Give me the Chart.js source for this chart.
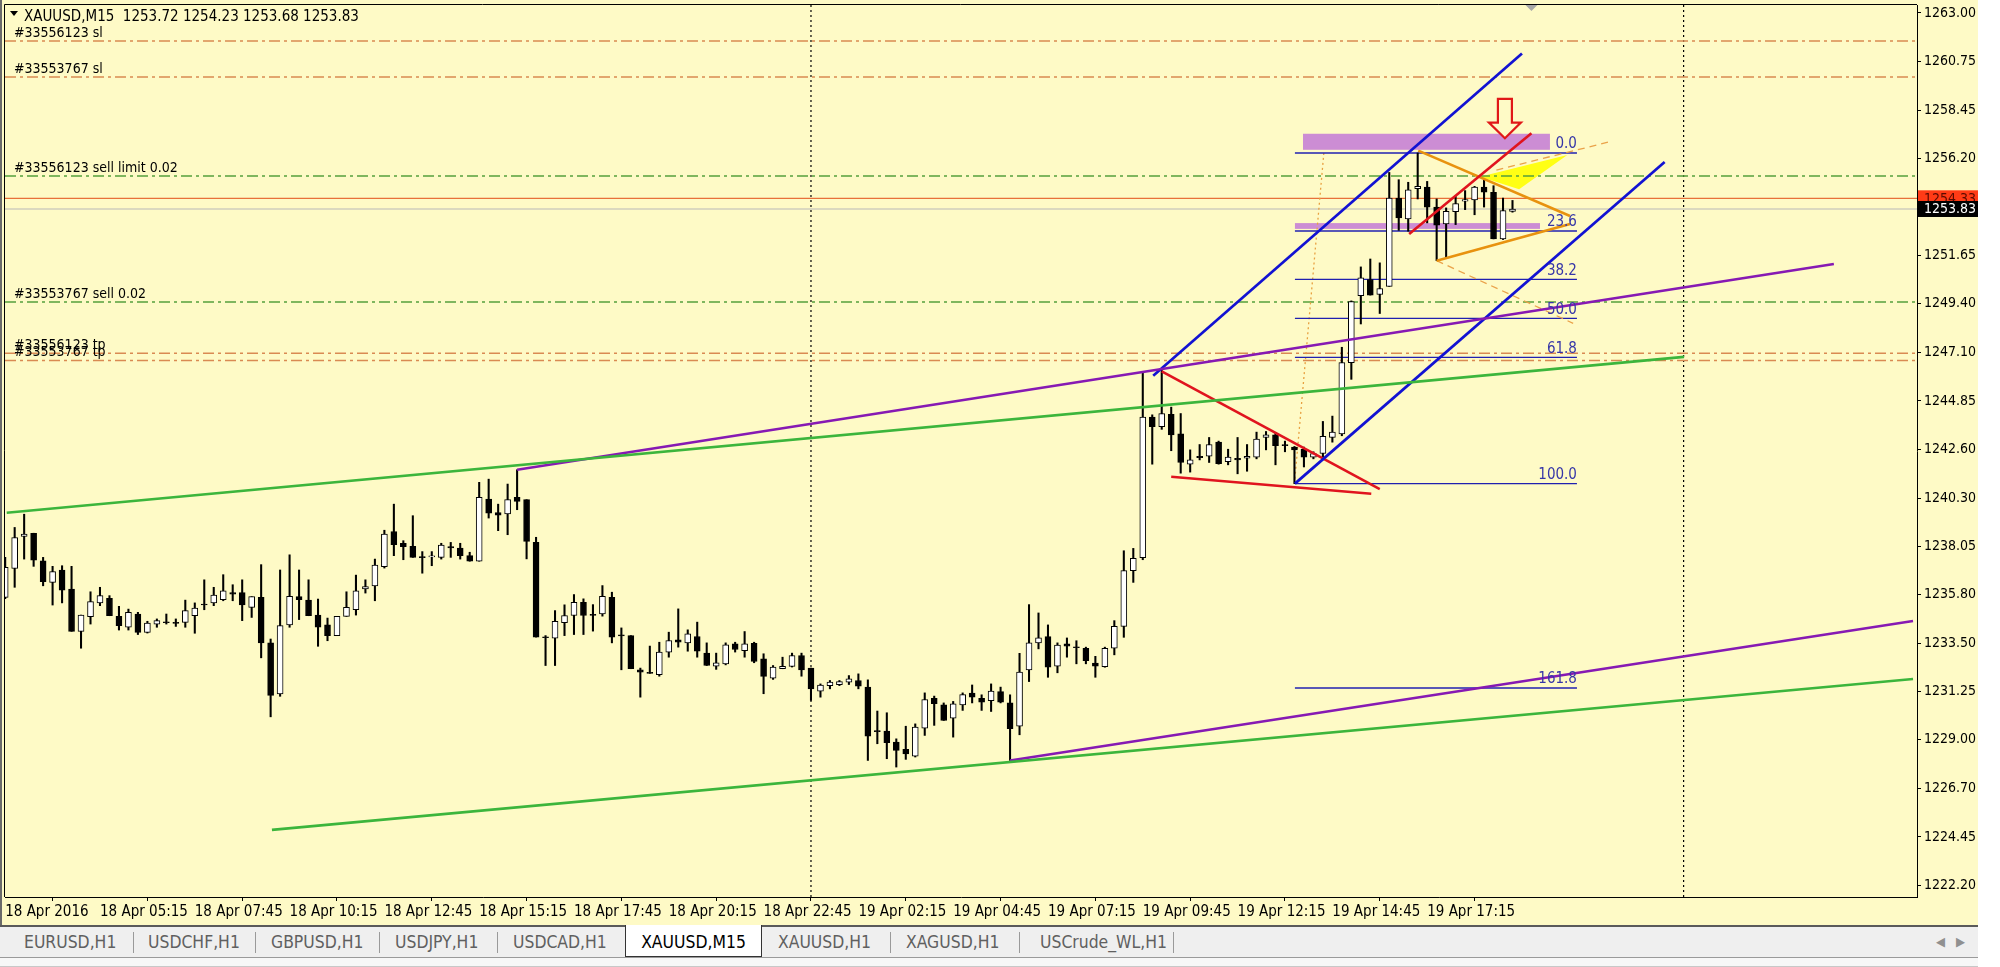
<!DOCTYPE html>
<html><head><meta charset="utf-8">
<script src="https://cdn.jsdelivr.net/npm/chart.js@4.4.1/dist/chart.umd.min.js"></script>
<style>
html,body{margin:0;padding:0;background:#fff;width:2000px;height:967px;overflow:hidden;}
#win{position:absolute;left:0;top:0;width:1978px;height:967px;background:#f3f3f3;}
#c{position:absolute;left:0;top:0;}
#tabbar{position:absolute;left:0;top:925px;width:1978px;height:33px;background:#efefef;border-top:2px solid #5a5a5a;border-bottom:1px solid #9a9a9a;box-sizing:border-box;
 font-family:"DejaVu Sans Condensed","DejaVu Sans",sans-serif;font-size:17.4px;color:#606060;}
.tab{position:absolute;top:5px;white-space:nowrap;}
.sep{position:absolute;top:5px;width:1px;height:21px;background:#9a9a9a;}
.act{position:absolute;top:-2px;height:32px;background:#fff;border:1px solid #333;border-top:none;box-sizing:border-box;color:#000;text-align:center;padding-top:7px;}
#foot{position:absolute;left:0;top:958px;width:1978px;height:9px;background:#f7f7f7;border-bottom:1px solid #c8c8c8;box-sizing:border-box;}
.arr{position:absolute;top:7px;color:#909090;font-size:13px;}
</style></head>
<body><div id="win">
<canvas id="c" width="1978" height="925"></canvas>
<div id="tabbar">
 <span class="tab" style="left:24px">EURUSD,H1</span><div class="sep" style="left:133px"></div>
 <span class="tab" style="left:148px">USDCHF,H1</span><div class="sep" style="left:255px"></div>
 <span class="tab" style="left:271px">GBPUSD,H1</span><div class="sep" style="left:379px"></div>
 <span class="tab" style="left:395px">USDJPY,H1</span><div class="sep" style="left:497px"></div>
 <span class="tab" style="left:513px">USDCAD,H1</span>
 <div class="act" style="left:625px;width:137px">XAUUSD,M15</div>
 <span class="tab" style="left:778px">XAUUSD,H1</span><div class="sep" style="left:890px"></div>
 <span class="tab" style="left:906px">XAGUSD,H1</span><div class="sep" style="left:1019px"></div>
 <span class="tab" style="left:1040px">USCrude_WL,H1</span><div class="sep" style="left:1173px"></div>
 <span class="arr" style="left:1936px">&#9664;</span><span class="arr" style="left:1956px">&#9654;</span>
</div>
<div id="foot"></div>
</div>
<script>
// ---------------- DATA ----------------
const headerText = "XAUUSD,M15  1253.72 1254.23 1253.68 1253.83";
const opens = [1235.66,1237.01,1238.51,1238.66,1237.37,1236.36,1236.94,1236.05,1234.07,1234.76,
 1235.40,1235.61,1234.77,1234.26,1234.88,1234.02,1234.41,1234.52,1234.49,1234.49,
 1234.80,1235.35,1235.40,1235.55,1235.88,1235.88,1235.19,1235.66,1233.53,1231.14,
 1234.37,1235.69,1235.53,1234.83,1234.37,1233.87,1234.77,1235.08,1236.05,1236.20,
 1237.09,1238.74,1238.19,1238.05,1237.55,1237.55,1237.53,1238.03,1237.97,1237.61,
 1237.35,1240.26,1239.63,1239.56,1240.34,1240.23,1238.23,1233.81,1233.75,1234.47,
 1234.81,1235.43,1234.86,1234.89,1235.66,1233.89,1233.87,1232.27,1232.15,1232.04,
 1233.10,1233.67,1233.53,1233.83,1233.05,1232.44,1232.55,1233.48,1233.17,1233.51,
 1232.78,1231.88,1232.32,1232.43,1232.94,1232.35,1231.27,1231.53,1231.58,1231.69,
 1231.77,1231.46,1229.41,1229.40,1228.89,1228.55,1228.23,1229.54,1230.94,1230.63,
 1230.01,1230.63,1231.18,1230.94,1230.83,1231.25,1230.72,1229.63,1232.27,1233.53,
 1233.82,1232.44,1233.48,1233.34,1233.28,1232.59,1232.42,1233.28,1234.30,1236.91,
 1237.52,1244.09,1243.64,1244.22,1243.31,1241.89,1242.26,1242.26,1242.93,1242.01,
 1242.16,1242.17,1242.22,1243.14,1243.26,1242.81,1242.69,1242.59,1242.22,1242.39,
 1243.14,1243.31,1246.64,1249.78,1250.53,1249.83,1250.21,1254.34,1253.36,1254.78,
 1254.86,1253.92,1253.13,1253.70,1254.19,1254.26,1254.86,1254.61,1252.43,1253.72];
const highs = [1237.53,1238.93,1239.55,1238.66,1237.53,1237.11,1237.14,1237.11,1234.83,1235.92,
 1236.13,1235.74,1235.24,1235.11,1234.96,1234.54,1234.65,1234.88,1234.65,1235.53,
 1235.40,1236.48,1236.13,1236.72,1236.25,1236.48,1235.69,1237.19,1233.71,1236.94,
 1237.65,1236.94,1236.48,1235.58,1234.69,1234.77,1235.92,1236.70,1236.48,1237.45,
 1238.80,1240.02,1238.31,1239.48,1237.80,1237.80,1238.19,1238.23,1238.19,1237.77,
 1241.04,1241.19,1240.02,1240.96,1241.63,1240.23,1238.47,1233.87,1235.04,1235.31,
 1235.79,1235.59,1235.32,1236.21,1235.90,1234.23,1233.87,1232.35,1233.38,1233.56,
 1234.03,1235.12,1234.14,1234.50,1233.53,1233.05,1233.53,1233.56,1234.06,1233.56,
 1233.02,1232.47,1232.86,1233.05,1233.05,1232.35,1231.61,1231.77,1231.77,1232.00,
 1232.08,1231.80,1230.34,1230.26,1229.04,1229.63,1229.74,1231.19,1231.04,1230.72,
 1230.79,1231.19,1231.56,1231.10,1231.61,1231.46,1231.10,1233.04,1235.32,1234.93,
 1234.37,1233.53,1233.76,1233.63,1233.33,1232.90,1233.33,1234.57,1237.84,1237.95,
 1246.14,1244.20,1246.30,1244.56,1244.26,1242.56,1242.81,1243.14,1242.97,1242.59,
 1243.14,1242.81,1243.39,1243.42,1243.36,1242.97,1242.72,1242.69,1242.47,1243.89,
 1244.14,1247.36,1249.53,1251.12,1251.49,1251.31,1255.54,1255.20,1255.08,1256.45,
 1255.12,1254.30,1253.88,1254.42,1254.69,1254.89,1255.20,1254.92,1254.34,1254.23];
const lows = [1235.60,1236.13,1237.45,1237.11,1236.20,1235.30,1235.40,1234.07,1233.28,1234.41,
 1235.27,1234.80,1234.13,1234.13,1233.92,1233.99,1234.26,1234.41,1234.30,1234.26,
 1233.98,1235.08,1235.27,1235.50,1235.50,1234.57,1234.72,1232.83,1230.07,1231.03,
 1234.26,1234.62,1234.80,1233.37,1233.63,1233.87,1234.77,1234.83,1235.86,1235.50,
 1237.03,1237.61,1237.42,1237.53,1236.79,1237.14,1237.45,1237.53,1237.45,1237.35,
 1237.35,1239.37,1238.78,1238.59,1239.76,1237.46,1233.80,1232.47,1232.47,1233.87,
 1233.92,1233.92,1234.08,1234.78,1233.53,1232.27,1232.32,1230.99,1232.10,1231.97,
 1232.86,1233.33,1233.14,1232.86,1232.47,1232.29,1232.50,1233.10,1232.86,1232.60,
 1231.15,1231.82,1232.32,1232.40,1231.97,1230.84,1230.99,1231.38,1231.53,1231.58,
 1231.38,1228.03,1228.81,1228.11,1227.72,1228.08,1228.19,1229.20,1229.67,1229.90,
 1229.12,1230.37,1230.72,1230.37,1230.32,1230.72,1228.03,1229.23,1231.72,1233.25,
 1231.92,1232.13,1232.86,1232.55,1232.55,1231.92,1232.39,1232.97,1233.79,1236.36,
 1237.42,1241.89,1243.52,1242.52,1241.47,1241.52,1242.09,1241.97,1241.89,1241.86,
 1241.44,1241.56,1242.14,1242.56,1241.86,1242.47,1240.98,1241.76,1242.14,1242.22,
 1242.92,1243.22,1245.86,1248.45,1249.80,1248.94,1250.21,1252.83,1252.79,1254.30,
 1253.18,1251.41,1251.54,1253.10,1253.80,1253.56,1253.92,1252.43,1252.40,1253.68];
const closes = [1237.06,1238.46,1238.62,1237.40,1236.39,1236.86,1236.00,1234.07,1234.83,1235.46,
 1235.74,1234.80,1234.34,1234.96,1234.02,1234.46,1234.57,1234.47,1234.44,1235.04,
 1235.16,1235.30,1235.77,1235.97,1235.81,1235.30,1235.69,1233.53,1231.07,1234.34,
 1235.71,1235.55,1234.80,1234.26,1233.87,1234.77,1235.19,1235.97,1236.16,1237.17,
 1238.62,1238.12,1238.03,1237.53,1237.52,1237.58,1238.11,1237.97,1237.61,1237.35,
 1240.34,1239.60,1239.51,1240.23,1240.15,1238.28,1233.80,1233.77,1234.54,1234.81,
 1235.43,1234.81,1234.81,1235.71,1233.80,1233.86,1232.32,1232.16,1232.10,1233.10,
 1233.64,1233.56,1233.95,1233.14,1232.47,1232.60,1233.44,1233.22,1233.48,1232.66,
 1231.96,1232.40,1232.43,1232.94,1232.27,1231.38,1231.56,1231.69,1231.72,1231.85,
 1231.50,1229.17,1229.38,1228.86,1228.50,1228.34,1229.59,1230.88,1230.68,1229.90,
 1230.68,1231.11,1230.99,1230.76,1231.27,1230.76,1229.51,1232.16,1233.53,1233.76,
 1232.39,1233.43,1233.37,1233.30,1232.70,1232.44,1233.28,1234.30,1236.91,1237.48,
 1244.09,1243.64,1244.26,1243.26,1241.97,1242.09,1242.19,1242.81,1241.92,1242.22,
 1242.09,1242.26,1243.06,1243.26,1242.76,1242.76,1242.56,1242.22,1242.39,1243.19,
 1243.39,1246.64,1249.50,1250.61,1249.80,1250.11,1254.34,1253.41,1254.73,1254.89,
 1253.91,1253.07,1253.72,1254.08,1254.27,1254.86,1254.62,1252.43,1253.75,1253.83];

const timeTickBars = [0,10,20,30,40,50,60,70,80,90,100,110,120,130,140,150];
const timeTickLabels = ["18 Apr 2016","18 Apr 05:15","18 Apr 07:45","18 Apr 10:15","18 Apr 12:45","18 Apr 15:15",
 "18 Apr 17:45","18 Apr 20:15","18 Apr 22:45","19 Apr 02:15","19 Apr 04:45","19 Apr 07:15","19 Apr 09:45",
 "19 Apr 12:15","19 Apr 14:45","19 Apr 17:15"];
const priceTicks = [1263.00,1260.75,1258.45,1256.20,1251.65,1249.40,1247.10,1244.85,1242.60,1240.30,
 1238.05,1235.80,1233.50,1231.25,1229.00,1226.70,1224.45,1222.20];
const priceMin = 1221.64, priceMax = 1263.374;
const barMin = -0.02, barMax = 201.67;
const bidPrice = 1253.83, askPrice = 1254.33;

const orderLevels = [1261.69, 1260.01, 1255.37, 1249.48, 1247.08, 1246.74];
const orderLabels = ["#33556123 sl","#33553767 sl","#33556123 sell limit 0.02","#33553767 sell 0.02","#33556123 tp","#33553767 tp"];
const orderKinds  = ["stop","stop","entry","entry","stop","stop"];

const separatorBars = [85, 177.05];
const shiftMarkerBar = 161;

const greenUpper   = [[0.16,1239.62],[177.1,1246.91]];
const greenLower   = [[28.14,1224.78],[201.25,1231.84]];
const purpleUpper  = [[54,1241.63],[192.9,1251.26]];
const purpleLower  = [[106,1228.03],[201.25,1234.55]];
const blueUpper    = [[121.1,1246.03],[160.0,1261.10]];
const blueLower    = [[136.05,1240.98],[175.05,1256.03]];
const redFalling   = [[122.0,1246.23],[145.0,1240.72]];
const redBase      = [[123.0,1241.30],[144.1,1240.51]];
const redRising    = [[148.1,1252.66],[161.0,1257.37]];
const orangeUpper  = [[149.06,1256.56],[165.07,1253.50]];
const orangeLower  = [[151.0,1251.41],[165.07,1253.13]];
const orangeDashDown = [[151.0,1251.41],[165.4,1248.48]];
const orangeDashUp   = [[157.3,1255.65],[169.3,1256.98]];
const fibConnector   = [[136.0,1240.98],[139.1,1256.45]];

const fibLevels = [0, 23.6, 38.2, 50, 61.8, 100, 161.8];
const fibLabels = ["0.0","23.6","38.2","50.0","61.8","100.0","161.8"];
const fibHigh = 1256.45, fibLow = 1240.98, fibStartBar = 136.05, fibEndBar = 165.8;

const orchidRects = [[136.9,162.95,1257.35,1256.60],[136.05,161.9,1253.17,1252.90]];
const yellowTriangle = [[155.57,1255.34],[164.78,1256.36],[159.7,1254.75]];
const arrowBar = 158.2, arrowTop = 1258.98, arrowBase = 1257.87, arrowTip = 1257.14;

// ---------------- STYLE ----------------
const BG = '#fefac6';
const FONT = '"DejaVu Sans Condensed","DejaVu Sans",sans-serif';
document.getElementById('c').style.background = BG;
const C_STOP = '#d98a52', C_ENTRY = '#56a03c';

// ---------------- DATASETS ----------------
const wickData = opens.map((o,i)=>({x:i, y:[lows[i], highs[i]]}));
const bodyData = opens.map((o,i)=>({x:i, y:[o, closes[i]]}));
const bodyFill = opens.map((o,i)=> closes[i] >= o ? '#ffffff' : '#000000');

function seg(pts, color, width, dash, order){
  return {type:'line', data: pts.map(p=>({x:p[0], y:p[1]})), borderColor:color, borderWidth:width,
    borderDash:dash||[], pointRadius:0, pointHoverRadius:0, fill:false, tension:0, order:order===undefined?-1:order};
}
const datasets = [];
orderLevels.forEach((lv,i)=>{
  datasets.push(seg([[barMin,lv],[barMax,lv]], orderKinds[i]==='stop'?C_STOP:C_ENTRY, 1.5, [11,4,3,4], 5));
});
datasets.push(seg([[barMin,askPrice],[barMax,askPrice]], '#e8703a', 1.2, [], 5));
datasets.push(seg([[barMin,bidPrice],[barMax,bidPrice]], '#b8b8b8', 1.2, [], 5));
separatorBars.forEach(b=> datasets.push(seg([[b,priceMin],[b,priceMax]], '#000000', 1.2, [2,3], 5)));
fibLevels.forEach(l=>{
  const v = fibHigh - l/100*(fibHigh-fibLow);
  datasets.push(seg([[fibStartBar,v],[fibEndBar,v]], '#2020b0', 1.3, [], 4));
});
datasets.push(seg(fibConnector, '#e8a040', 1.3, [2,3], 4));
datasets.push({type:'bar', data:wickData, backgroundColor:'#000', borderWidth:0, barThickness:1.4, grouped:false, order:1});
datasets.push({type:'bar', data:bodyData, backgroundColor:bodyFill, borderColor:'#000', borderWidth:1, borderSkipped:false,
  barThickness:6, minBarLength:1, grouped:false, order:0});
datasets.push(seg(greenUpper,'#3cb53c',2.6));
datasets.push(seg(greenLower,'#3cb53c',2.6));
datasets.push(seg(purpleUpper,'#8619b3',2.6));
datasets.push(seg(purpleLower,'#8619b3',2.6));
datasets.push(seg(blueUpper,'#1212d2',2.7));
datasets.push(seg(blueLower,'#1212d2',2.7));
datasets.push(seg(redFalling,'#e0141e',2.6));
datasets.push(seg(redBase,'#e0141e',2.6));
datasets.push(seg(redRising,'#e0141e',2.6));
datasets.push(seg(orangeUpper,'#e8920e',2.6));
datasets.push(seg(orangeLower,'#e8920e',2.6));
datasets.push(seg(orangeDashDown,'#eaa24a',1.3,[7,5]));
datasets.push(seg(orangeDashUp,'#eaa24a',1.3,[7,5]));

// ---------------- PLUGINS ----------------
const bgObjects = {
  id:'bgObjects',
  beforeDatasetsDraw(chart){
    const {ctx, chartArea:a, scales:{x,y}} = chart;
    ctx.save(); ctx.beginPath(); ctx.rect(a.left,a.top,a.width,a.height); ctx.clip();
    ctx.fillStyle = '#cc8dd4';
    orchidRects.forEach(r=>{
      const x0=x.getPixelForValue(r[0]), x1=x.getPixelForValue(r[1]);
      const y0=y.getPixelForValue(r[2]), y1=y.getPixelForValue(r[3]);
      ctx.fillRect(x0,y0,x1-x0,y1-y0);
    });
    ctx.beginPath();
    yellowTriangle.forEach((p,i)=>{ const px=x.getPixelForValue(p[0]), py=y.getPixelForValue(p[1]); i?ctx.lineTo(px,py):ctx.moveTo(px,py); });
    ctx.closePath(); ctx.fillStyle='#ffff14'; ctx.fill();
    ctx.restore();
  }
};
const fgObjects = {
  id:'fgObjects',
  afterDatasetsDraw(chart){
    const {ctx, chartArea:a, scales:{x,y}} = chart;
    ctx.save();
    ctx.font = '14px '+FONT; ctx.fillStyle='#000'; ctx.textAlign='left'; ctx.textBaseline='bottom';
    orderLevels.forEach((lv,i)=>{ ctx.fillText(orderLabels[i], a.left+9, y.getPixelForValue(lv)-1); });
    ctx.font = '15px '+FONT; ctx.fillStyle='#3636a8'; ctx.textAlign='right';
    fibLevels.forEach((l,i)=>{
      const v = fibHigh - l/100*(fibHigh-fibLow);
      ctx.fillText(fibLabels[i], x.getPixelForValue(fibEndBar), y.getPixelForValue(v)-1);
    });
    const cx = x.getPixelForValue(arrowBar), t=y.getPixelForValue(arrowTop), b=y.getPixelForValue(arrowBase), tip=y.getPixelForValue(arrowTip);
    ctx.beginPath();
    ctx.moveTo(cx-7,t); ctx.lineTo(cx+7,t); ctx.lineTo(cx+7,b); ctx.lineTo(cx+16,b); ctx.lineTo(cx,tip);
    ctx.lineTo(cx-16,b); ctx.lineTo(cx-7,b); ctx.closePath();
    ctx.fillStyle=BG; ctx.fill(); ctx.strokeStyle='#e01818'; ctx.lineWidth=2.2; ctx.lineJoin='miter'; ctx.stroke();
    ctx.restore();
  },
  afterDraw(chart){
    const {ctx, chartArea:a, scales:{x,y}} = chart;
    ctx.save();
    ctx.strokeStyle='#000'; ctx.lineWidth=1;
    ctx.beginPath(); ctx.moveTo(a.left-0.5,a.bottom); ctx.lineTo(a.left-0.5,a.top-0.5); ctx.lineTo(a.right,a.top-0.5); ctx.stroke();
    ctx.strokeStyle='#6a6a6a'; ctx.lineWidth=2;
    ctx.beginPath(); ctx.moveTo(1,0); ctx.lineTo(1,chart.height); ctx.stroke();
    const sx = x.getPixelForValue(shiftMarkerBar);
    ctx.fillStyle='#a8a8a8'; ctx.beginPath(); ctx.moveTo(sx-6,a.top); ctx.lineTo(sx+6,a.top); ctx.lineTo(sx,a.top+6); ctx.closePath(); ctx.fill();
    ctx.fillStyle='#000'; ctx.beginPath(); ctx.moveTo(10,11); ctx.lineTo(18,11); ctx.lineTo(14,16); ctx.closePath(); ctx.fill();
    ctx.font='15px '+FONT; ctx.textAlign='left'; ctx.textBaseline='alphabetic';
    ctx.fillText(headerText, 24, 21);
    const ya = y.getPixelForValue(askPrice), yb = y.getPixelForValue(bidPrice);
    ctx.font='14px '+FONT; ctx.textBaseline='middle';
    ctx.fillStyle='#ff3b16'; ctx.fillRect(a.right+1, ya-8, 60, 16);
    ctx.fillStyle='#5a0a00'; ctx.fillText(askPrice.toFixed(2), a.right+7, ya+1);
    ctx.fillStyle='#000'; ctx.fillRect(a.right+1, yb-8, 60, 16);
    ctx.fillStyle='#fff'; ctx.fillText(bidPrice.toFixed(2), a.right+7, yb);
    ctx.restore();
  }
};

// ---------------- CHART ----------------
new Chart(document.getElementById('c'), {
  type:'bar',
  data:{datasets},
  plugins:[bgObjects, fgObjects],
  options:{
    responsive:false, animation:false, devicePixelRatio:1,
    layout:{padding:{left:5, top:5, right:0, bottom:0}},
    plugins:{legend:{display:false}, tooltip:{enabled:false}},
    events:[],
    scales:{
      x:{type:'linear', min:barMin, max:barMax, offset:false,
        afterBuildTicks:s=>{ s.ticks = timeTickBars.map(v=>({value:v})); },
        afterFit:s=>{ s.height = 28; s.paddingLeft = 0; s.paddingRight = 0; },
        ticks:{autoSkip:false, maxRotation:0, minRotation:0, align:'start', padding:2, color:'#000',
          font:{family:FONT, size:15}, callback:(v,i)=>timeTickLabels[i]},
        grid:{display:true, drawOnChartArea:false, drawTicks:true, tickLength:4, color:'#000', lineWidth:1},
        border:{display:true, color:'#000', width:1}
      },
      y:{type:'linear', position:'right', min:priceMin, max:priceMax, beginAtZero:false,
        afterBuildTicks:s=>{ s.ticks = priceTicks.map(v=>({value:v})); },
        afterFit:s=>{ s.width = 61; s.paddingTop = 0; s.paddingBottom = 0; },
        ticks:{autoSkip:false, padding:3, color:'#000', font:{family:FONT, size:14}, callback:v=>v.toFixed(2)},
        grid:{display:true, drawOnChartArea:false, tickLength:4, color:'#000', lineWidth:1},
        border:{display:true, color:'#000', width:1}
      }
    }
  }
});
</script>
</body></html>
